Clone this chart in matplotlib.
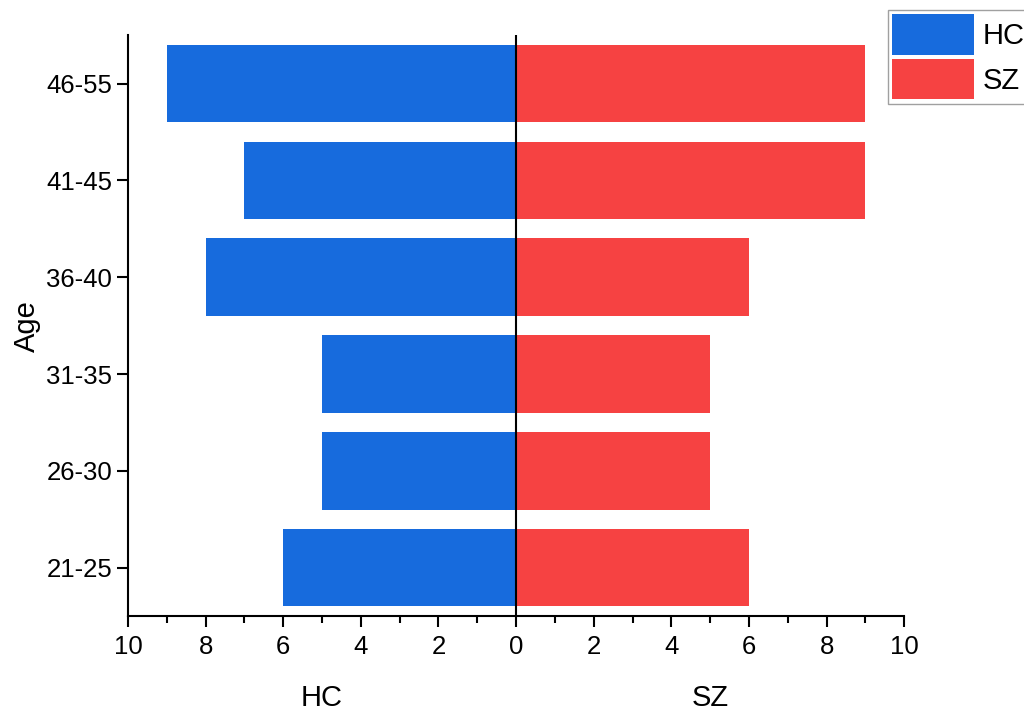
import numpy as np
import matplotlib.pyplot as plt
from matplotlib.ticker import MultipleLocator

plt.rcParams['font.family'] = ['Liberation Sans', 'DejaVu Sans']

# Age groups, bottom to top
ages = ['21-25', '26-30', '31-35', '36-40', '41-45', '46-55']
hc = [6, 5, 5, 8, 7, 9]
sz = [6, 5, 5, 6, 9, 9]

blue = '#176BDD'
red = '#F64242'

fig = plt.figure(figsize=(10.24, 7.18), dpi=100)
ax = fig.add_axes([0.125, 0.142, 0.758, 0.809])

y = np.arange(len(ages))
ax.barh(y, [-v for v in hc], height=0.8, color=blue, label='HC')
ax.barh(y, sz, height=0.8, color=red, label='SZ')
ax.axvline(0, color='black', lw=1.5)

ax.set_xlim(-10, 10)
ax.set_ylim(-0.5, 5.5)
ax.set_yticks(y)
ax.set_yticklabels(ages)
ax.xaxis.set_major_locator(MultipleLocator(2))
ax.xaxis.set_minor_locator(MultipleLocator(1))
ax.xaxis.set_major_formatter(plt.FuncFormatter(lambda v, p: '%d' % abs(v)))

for s in ['top', 'right']:
    ax.spines[s].set_visible(False)
for s in ['left', 'bottom']:
    ax.spines[s].set_linewidth(1.5)
ax.tick_params(axis='both', which='major', length=8, width=1.5, labelsize=18.5, direction='out')
ax.tick_params(axis='x', which='minor', length=5, width=1.5)
ax.tick_params(axis='x', pad=6)

ax.set_ylabel('Age', fontsize=21, labelpad=4)
ax.text(-5, -1.35, 'HC', fontsize=21, ha='center', va='center', transform=ax.transData)
ax.text(5, -1.35, 'SZ', fontsize=21, ha='center', va='center', transform=ax.transData)

leg = fig.legend(loc='upper left', bbox_to_anchor=(888 / 1024, 1 - 10 / 718),
                 fontsize=21, handlelength=2.8, handleheight=1.75,
                 frameon=True, fancybox=False, borderaxespad=0,
                 borderpad=0.15, labelspacing=0.15, handletextpad=0.3)
leg.get_frame().set_edgecolor('#888888')
leg.get_frame().set_linewidth(1.0)

fig.savefig('out.png', dpi=100)
